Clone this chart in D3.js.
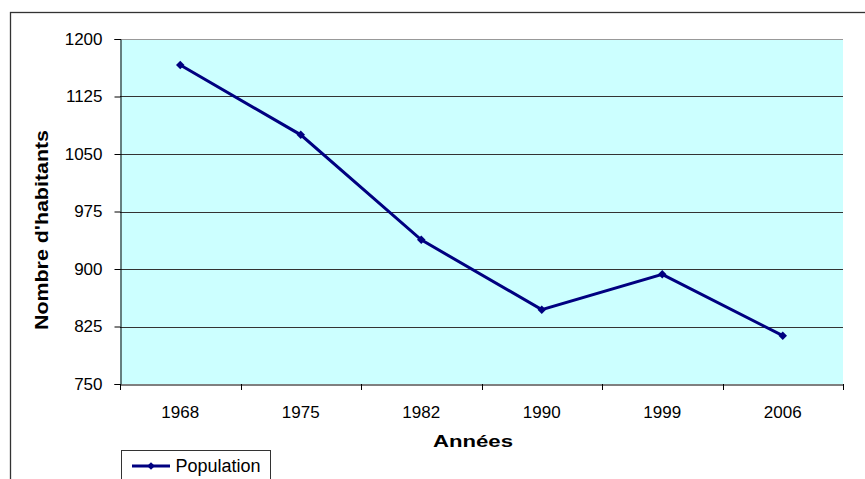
<!DOCTYPE html>
<html><head><meta charset="utf-8">
<script src="https://cdn.jsdelivr.net/npm/d3@7"></script>
<style>body{margin:0;background:#fff}svg{display:block}</style>
</head><body>
<script>
const years = ["1968","1975","1982","1990","1999","2006"];
const population = [1166, 1075, 938, 847, 893, 813];
const yTicks = [750, 825, 900, 975, 1050, 1125, 1200];
const seriesName = "Population";
const xTitle = "Années";
const yTitle = "Nombre d'habitants";

const W = 865, H = 479;
const svg = d3.select("body").append("svg").attr("width", W).attr("height", H);
const font = "Liberation Sans, Arial, sans-serif";

// outer border
svg.append("rect").attr("x", 10.5).attr("y", 12.5).attr("width", W).attr("height", H)
  .attr("fill", "#fff").attr("stroke", "#333").attr("stroke-width", 1.3);

const L = 120, R = 843, T = 39, B = 384;
const x = d3.scaleBand().domain(years).range([L, R]);
const y = d3.scaleLinear().domain([750, 1200]).range([B, T]);

svg.append("rect").attr("x", L).attr("y", T).attr("width", R - L).attr("height", B - T).attr("fill", "#CCFFFF");

// gridlines
svg.append("g").selectAll("line").data(yTicks.filter(v => v > 750)).join("line")
  .attr("x1", L).attr("x2", R).attr("y1", d => Math.round(y(d)) + 0.5).attr("y2", d => Math.round(y(d)) + 0.5)
  .attr("stroke", d => d === 1200 ? "#999" : "#333").attr("stroke-width", 1);

// y axis
const yAxis = svg.append("g").attr("transform", `translate(${L + 0.5},0)`)
  .call(d3.axisLeft(y).tickValues(yTicks).tickFormat(d3.format("d")).tickSize(6).tickPadding(12));
yAxis.select(".domain").attr("stroke", "#000");
yAxis.selectAll(".tick line").attr("stroke", "#000");
yAxis.selectAll("text").attr("font-family", font).attr("font-size", 17).attr("fill", "#000");

// x axis
const xAxis = svg.append("g").attr("transform", `translate(0,${B + 0.5})`)
  .call(d3.axisBottom(x).tickSize(0));
xAxis.select(".domain").attr("stroke", "#000");
xAxis.selectAll("text").attr("font-family", font).attr("font-size", 17).attr("fill", "#000")
  .attr("y", 33.5).attr("dy", 0);
// boundary ticks
svg.append("g").selectAll("line").data(years.map(d => x(d)).concat([R])).join("line")
  .attr("x1", d => Math.round(d) + 0.5).attr("x2", d => Math.round(d) + 0.5)
  .attr("y1", B).attr("y2", B + 6).attr("stroke", "#000");

// titles
svg.append("text").attr("x", 473).attr("y", 446.5).attr("text-anchor", "middle")
  .attr("font-family", font).attr("font-weight", "bold").attr("font-size", 17)
  .attr("textLength", 80).attr("lengthAdjust", "spacingAndGlyphs").text(xTitle);
svg.append("text").attr("transform", "translate(48,230) rotate(-90)").attr("text-anchor", "middle")
  .attr("font-family", font).attr("font-weight", "bold").attr("font-size", 19)
  .attr("textLength", 200).attr("lengthAdjust", "spacingAndGlyphs").text(yTitle);

// line
const cx = d => x(d) + x.bandwidth() / 2;
svg.append("path").datum(years.map((d, i) => [cx(d), y(population[i])]))
  .attr("d", d3.line()).attr("fill", "none").attr("stroke", "#000080").attr("stroke-width", 3);
svg.append("g").selectAll("path").data(years).join("path")
  .attr("d", d3.symbol(d3.symbolSquare, 36))
  .attr("transform", (d, i) => `translate(${cx(d)},${y(population[i])}) rotate(45)`)
  .attr("fill", "#000080");

// legend
svg.append("rect").attr("x", 121.5).attr("y", 450.5).attr("width", 149).attr("height", 40)
  .attr("fill", "#fff").attr("stroke", "#333");
svg.append("line").attr("x1", 132).attr("x2", 170).attr("y1", 466).attr("y2", 466)
  .attr("stroke", "#000080").attr("stroke-width", 3);
svg.append("path").attr("d", d3.symbol(d3.symbolSquare, 30)).attr("transform", "translate(151,466) rotate(45)").attr("fill", "#000080");
svg.append("text").attr("x", 175.5).attr("y", 471.5).attr("font-family", font).attr("font-size", 18).text(seriesName);
</script>
</body></html>
